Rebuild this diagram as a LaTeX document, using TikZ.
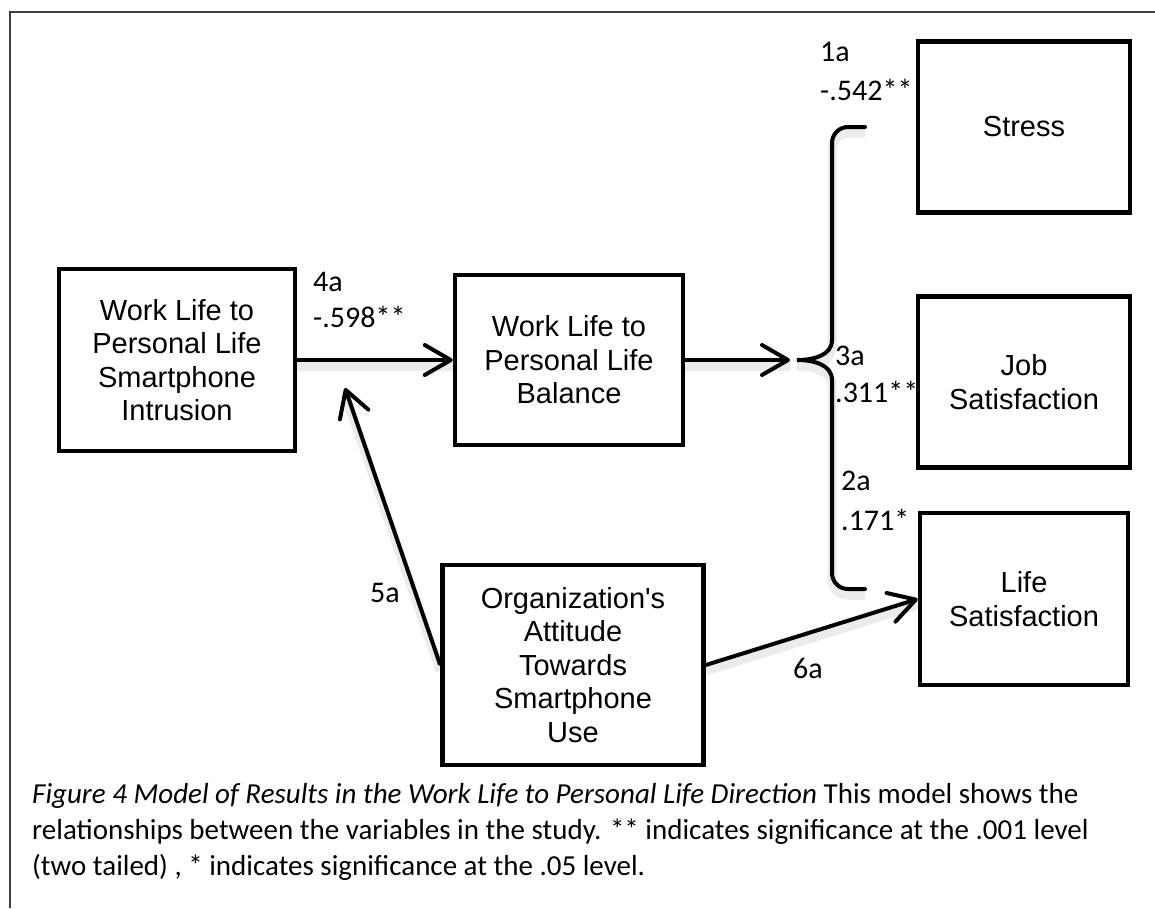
\documentclass[tikz,border=0pt]{standalone}
\usepackage{fontspec}
\setmainfont{Liberation Sans}[Ligatures=TeXOff]
\newfontfamily\capfont{Carlito}
\usetikzlibrary{arrows.meta, positioning}
\tikzset{
    var/.style={draw, line width=4.5pt, align=center, inner sep=0pt,
        font=\fontsize{29}{33.5}\selectfont},
    soft shadow/.style={preaction={draw, -, black, opacity=0.08, line width=9pt,
        transform canvas={yshift=-6pt}}},
    path arrow/.style={line width=4pt, soft shadow,
        -{Straight Barb[length=26pt, width=30pt, line width=4pt, round]}},
    coef/.style={anchor=west, inner sep=0pt, font=\capfont\fontsize{30}{36}\selectfont},
    caption line/.style={anchor=base west, inner sep=0pt, font=\capfont\fontsize{29}{36}\selectfont}
}

\begin{document}
\begin{tikzpicture}[x=1pt, y=-1pt]
        \useasboundingbox (0,0) rectangle (1155,908);
        \draw[line width=1.5pt, black!75] (1155,12) -- (10,12) -- (10,908);
        % variables
        \node[var, minimum width=236pt, minimum height=182pt] (intrusion) at (177,360) {Work Life to\\Personal Life\\Smartphone\\Intrusion};
        \node[var, minimum width=228pt, minimum height=170pt] (balance) at (569,360) {Work Life to\\Personal Life\\Balance};
        \node[var, minimum width=261pt, minimum height=200pt] (org) at (573,665) {Organization's\\Attitude\\Towards\\Smartphone\\Use};
        \node[var, minimum width=212pt, minimum height=171pt] (stress) at (1024,127) {Stress};
        \node[var, minimum width=212pt, minimum height=171pt] (job) at (1024,382) {Job\\Satisfaction};
        \node[var, minimum width=208pt, minimum height=172pt] (life) at (1024,599) {Life\\Satisfaction};
        \coordinate (bracetip) at (790,360);
        \coordinate (hit5a) at (345,388);
        % paths
        \draw[path arrow] (intrusion) -- (balance);
        \draw[path arrow] (balance) -- (bracetip);
        \draw[path arrow] (org.west) -- (hit5a);
        \draw[path arrow] (org.east) -- (life.west);
        \draw[line width=4pt, line cap=round, soft shadow] (865,127) -- (848,127) to[out=180, in=90] (832,143)
            -- (832,340) to[out=-90, in=0] (797,360) to[out=0, in=90] (832,380)
            -- (832,573) to[out=-90, in=180] (848,589) -- (865,589);
        % coefficients
        \node[coef] (l4a) at (313,282) {4a};
        \node[coef] (c4a) at (313,317) {-.598**};
        \node[coef] (l1a) at (820,52) {1a};
        \node[coef] (c1a) at (820,90) {-.542**};
        \node[coef] (l3a) at (835,356) {3a};
        \node[coef] (c3a) at (835,392) {.311**};
        \node[coef] (l2a) at (841,481) {2a};
        \node[coef] (c2a) at (841,520) {.171*};
        \node[coef, anchor=center] (l5a) at (385,593) {5a};
        \node[coef, anchor=center] (l6a) at (808,668) {6a};
        % caption
        \node[caption line] (cap1) at (32,803) {\textit{Figure 4 Model of Results in the Work Life to Personal Life Direction} This model shows the};
        \node[caption line] (cap2) at (32,839) {relationships between the variables in the study. ** indicates significance at the .001 level};
        \node[caption line] (cap3) at (32,875) {(two tailed) , * indicates significance at the .05 level.};
    \end{tikzpicture}
\end{document}
